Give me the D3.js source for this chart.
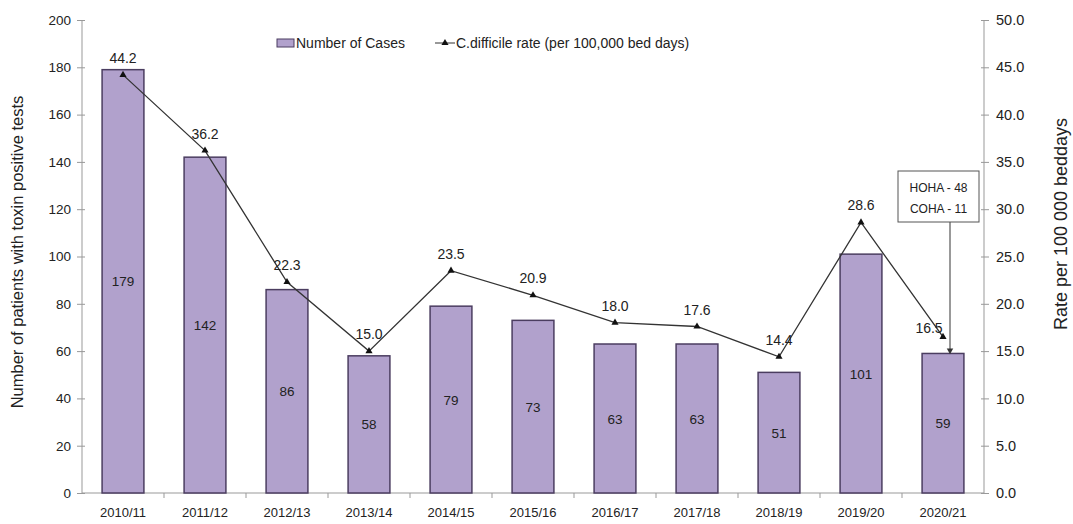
<!DOCTYPE html>
<html>
<head>
<meta charset="utf-8">
<script src="https://cdn.jsdelivr.net/npm/d3@7"></script>
<style>
  html, body { margin: 0; padding: 0; background: #fff; }
  svg text { font-family: "Liberation Sans", Arial, sans-serif; fill: #222; }
</style>
</head>
<body>
<svg id="chart" width="1073" height="524"></svg>
<script>
// Financial years
const years = ["2010/11","2011/12","2012/13","2013/14","2014/15","2015/16","2016/17","2017/18","2018/19","2019/20","2020/21"];
// Number of patients with toxin positive tests
const cases = [179, 142, 86, 58, 79, 73, 63, 63, 51, 101, 59];
// C.difficile rate per 100,000 bed days
const rates = [44.2, 36.2, 22.3, 15.0, 23.5, 20.9, 18.0, 17.6, 14.4, 28.6, 16.5];
const leftTicks = [0, 20, 40, 60, 80, 100, 120, 140, 160, 180, 200];
const rightTicks = [0, 5, 10, 15, 20, 25, 30, 35, 40, 45, 50];
const noteLines = ["HOHA - 48", "COHA - 11"];
const seriesNames = ["Number of Cases", "C.difficile rate (per 100,000 bed days)"];
const leftTitle = "Number of patients with toxin positive tests";
const rightTitle = "Rate per 100 000 beddays";

const svg = d3.select("#chart");
const plotLeft = 82, plotRight = 984, plotTop = 20, plotBottom = 493;
const barFill = "#b1a1cc", barStroke = "#4b3d60", axisColor = "#999";

const x = d3.scaleBand().domain(years).range([plotLeft, plotRight]).paddingInner(0.49).paddingOuter(0.245);
const yL = d3.scaleLinear().domain([0, 200]).range([plotBottom, plotTop]);
const yR = d3.scaleLinear().domain([0, 50]).range([plotBottom, plotTop]);

// Left axis
const gL = svg.append("g").attr("transform", `translate(${plotLeft},0)`)
  .call(d3.axisLeft(yL).tickValues(leftTicks).tickSize(5).tickPadding(6).tickFormat(d3.format("d")));
gL.selectAll(".tick line").attr("x1", 3);
gL.selectAll(".tick text").attr("font-size", 13.5);
// Right axis
const gR = svg.append("g").attr("transform", `translate(${plotRight},0)`)
  .call(d3.axisRight(yR).tickValues(rightTicks).tickSize(5).tickPadding(7).tickFormat(d3.format(".1f")));
gR.selectAll(".tick line").attr("x1", -3);
gR.selectAll(".tick text").attr("font-size", 14.5);
[gL, gR].forEach(g => {
  g.select(".domain").attr("stroke", axisColor).attr("d", `M0,${plotTop}V${plotBottom}`);
  g.selectAll(".tick line").attr("stroke", axisColor);
  g.selectAll(".tick text").attr("fill", "#222").style("font-family", '"Liberation Sans", Arial, sans-serif');
});

// X axis with ticks between categories
const gX = svg.append("g").attr("transform", `translate(0,${plotBottom})`);
gX.append("line").attr("x1", plotLeft).attr("x2", plotRight).attr("stroke", axisColor);
const step = x.step();
d3.range(1, years.length).forEach(i => {
  const bx = plotLeft + i * step;
  gX.append("line").attr("x1", bx).attr("x2", bx).attr("y1", 0).attr("y2", 5).attr("stroke", axisColor);
});
gX.selectAll("text.cat").data(years).join("text").attr("class", "cat")
  .attr("x", d => x(d) + x.bandwidth() / 2).attr("y", 24)
  .attr("text-anchor", "middle").attr("font-size", 13).text(d => d);

// Bars
svg.append("g").selectAll("rect").data(cases).join("rect")
  .attr("x", (d, i) => x(years[i])).attr("width", x.bandwidth())
  .attr("y", d => yL(d)).attr("height", d => yL(0) - yL(d))
  .attr("fill", barFill).attr("stroke", barStroke).attr("stroke-width", 1.5);
svg.append("g").selectAll("text").data(cases).join("text")
  .attr("x", (d, i) => x(years[i]) + x.bandwidth() / 2)
  .attr("y", d => (yL(d) + yL(0)) / 2 + 5)
  .attr("text-anchor", "middle").attr("font-size", 13.5).text(d => d);

// Rate line
const cx = i => x(years[i]) + x.bandwidth() / 2;
const line = d3.line().x((d, i) => cx(i)).y(d => yR(d));
svg.append("path").datum(rates).attr("d", line).attr("fill", "none").attr("stroke", "#333").attr("stroke-width", 1.3);
const tri = d3.symbol().type(d3.symbolTriangle).size(22);
svg.append("g").selectAll("path").data(rates).join("path")
  .attr("d", tri).attr("transform", (d, i) => `translate(${cx(i)},${yR(d)})`).attr("fill", "#111");
const lastIdx = rates.length - 1;
svg.append("g").selectAll("text").data(rates).join("text")
  .attr("x", (d, i) => cx(i) + (i === lastIdx ? -14 : 0))
  .attr("y", (d, i) => yR(d) - (i === lastIdx ? 4 : 12))
  .attr("text-anchor", "middle").attr("font-size", 14).text(d => d3.format(".1f")(d));

// Note box for the latest year with a pointer to its bar
const ax = cx(lastIdx) + 7;
const note = svg.append("g");
note.append("rect").attr("x", 898).attr("y", 171).attr("width", 81).attr("height", 51)
  .attr("fill", "#fff").attr("stroke", "#555").attr("stroke-width", 1);
note.selectAll("text").data(noteLines).join("text")
  .attr("x", 938.5).attr("y", (d, i) => 192 + i * 21).attr("text-anchor", "middle")
  .attr("font-size", 12).text(d => d);
note.append("line").attr("x1", ax).attr("x2", ax).attr("y1", 222).attr("y2", yL(cases[lastIdx]) - 3)
  .attr("stroke", "#555").attr("stroke-width", 1.2);
note.append("path").attr("d", d3.symbol().type(d3.symbolTriangle).size(18)())
  .attr("transform", `translate(${ax},${yL(cases[lastIdx]) - 3}) rotate(180)`).attr("fill", "#333");

// Legend
const lg = svg.append("g");
lg.append("rect").attr("x", 277).attr("y", 39).attr("width", 17).attr("height", 8)
  .attr("fill", barFill).attr("stroke", barStroke);
lg.append("text").attr("x", 296).attr("y", 48).attr("font-size", 14).text(seriesNames[0]);
lg.append("line").attr("x1", 435).attr("x2", 455).attr("y1", 43).attr("y2", 43).attr("stroke", "#333");
lg.append("path").attr("d", d3.symbol().type(d3.symbolTriangle).size(22)())
  .attr("transform", "translate(445,43)").attr("fill", "#111");
lg.append("text").attr("x", 456).attr("y", 48).attr("font-size", 14).text(seriesNames[1]);

// Axis titles
svg.append("text").attr("transform", "translate(23,252) rotate(-90)")
  .attr("text-anchor", "middle").attr("font-size", 16.5).text(leftTitle);
svg.append("text").attr("transform", "translate(1067,224) rotate(-90)")
  .attr("text-anchor", "middle").attr("font-size", 18).text(rightTitle);
</script>
</body>
</html>
